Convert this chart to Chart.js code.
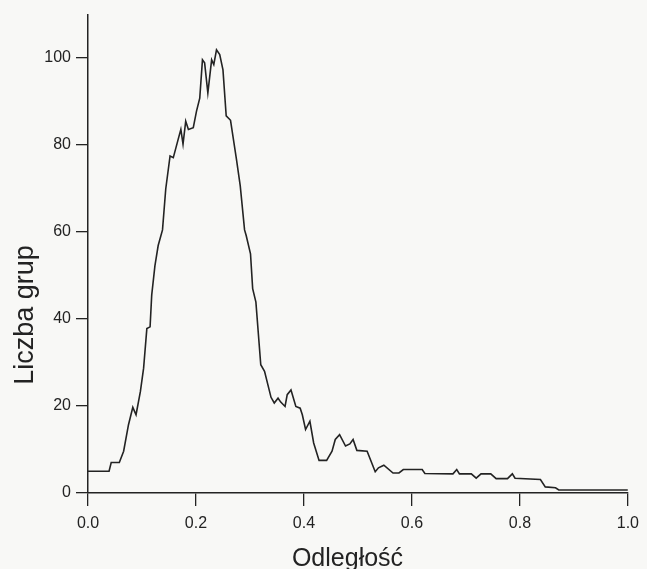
<!DOCTYPE html>
<html>
<head>
<meta charset="utf-8">
<script src="https://cdn.jsdelivr.net/npm/chart.js@4/dist/chart.umd.min.js"></script>
<style>
  html, body { margin: 0; padding: 0; background: #f8f8f6; }
  #c { display: block; }
</style>
</head>
<body>
<canvas id="c" width="647" height="569"></canvas>
<script>
// ---- data ----
const distances = [
  0.000, 0.039, 0.043, 0.058, 0.066, 0.075, 0.083, 0.089, 0.097, 0.103,
  0.109, 0.115, 0.118, 0.124, 0.130, 0.138, 0.144, 0.152, 0.158, 0.167,
  0.172, 0.176, 0.181, 0.186, 0.195, 0.201, 0.207, 0.212, 0.216, 0.222,
  0.229, 0.233, 0.238, 0.244, 0.250, 0.256, 0.264, 0.275, 0.282, 0.290,
  0.293, 0.301, 0.305, 0.311, 0.320, 0.327, 0.339, 0.345, 0.352, 0.357,
  0.365, 0.369, 0.376, 0.385, 0.393, 0.397, 0.403, 0.411, 0.418, 0.428,
  0.442, 0.452, 0.458, 0.466, 0.477, 0.485, 0.491, 0.498, 0.517, 0.532,
  0.538, 0.548, 0.565, 0.576, 0.584, 0.619, 0.624, 0.676, 0.683, 0.688,
  0.710, 0.719, 0.728, 0.746, 0.756, 0.777, 0.786, 0.791, 0.838, 0.847,
  0.866, 0.872, 1.000
];
const groupCounts = [
  5, 5, 7, 7, 9.6, 15.7, 19.7, 18, 23.3, 28.7,
  37.8, 38.2, 45.5, 52.3, 56.9, 60.5, 69.9, 77.5, 77.1, 81.3,
  83.6, 80.2, 85.5, 83.6, 84, 87.8, 90.8, 99.6, 98.9, 92,
  99.6, 98.5, 101.9, 100.8, 97.3, 86.7, 85.7, 76.7, 70.6, 60.5,
  59.2, 55, 47, 43.9, 29.5, 28, 22, 20.7, 21.8, 20.9,
  19.9, 22.6, 23.7, 19.9, 19.5, 18, 14.6, 16.5, 11.5, 7.5,
  7.5, 9.6, 12.3, 13.4, 10.8, 11.3, 12.3, 9.8, 9.6, 4.9,
  5.8, 6.4, 4.6, 4.6, 5.4, 5.4, 4.5, 4.4, 5.4, 4.4,
  4.4, 3.4, 4.4, 4.4, 3.3, 3.3, 4.4, 3.4, 3.1, 1.4,
  1.2, 0.7, 0.7
];
const xTicks = [0, 0.2, 0.4, 0.6, 0.8, 1.0];
const yTicks = [0, 20, 40, 60, 80, 100];
const xTitle = 'Odległość';
const yTitle = 'Liczba grup';

const points = distances.map((d, i) => ({ x: d, y: groupCounts[i] }));
const INK = '#232323';
const FONT = '"Liberation Sans", Arial, Helvetica, sans-serif';

const bgPlugin = {
  id: 'bg',
  beforeDraw(chart) {
    const ctx = chart.ctx;
    ctx.save();
    ctx.fillStyle = '#f8f8f6';
    ctx.fillRect(0, 0, chart.width, chart.height);
    ctx.restore();
  }
};

const titlePlugin = {
  id: 'axisTitles',
  afterDraw(chart) {
    const ctx = chart.ctx;
    ctx.save();
    ctx.fillStyle = INK;
    ctx.textAlign = 'center';
    ctx.textBaseline = 'alphabetic';
    ctx.font = '25px ' + FONT;
    ctx.fillText(xTitle, 347.5, 566);
    ctx.translate(33, 315);
    ctx.rotate(-Math.PI / 2);
    ctx.font = '27px ' + FONT;
    ctx.fillText(yTitle, 0, 0);
    ctx.restore();
  }
};

new Chart(document.getElementById('c'), {
  type: 'line',
  data: {
    datasets: [{
      data: points,
      borderColor: INK,
      borderWidth: 1.6,
      pointRadius: 0,
      tension: 0,
      fill: false
    }]
  },
  options: {
    responsive: false,
    animation: false,
    devicePixelRatio: 1,
    layout: { padding: { top: 11, right: 13, left: 0, bottom: 0 } },
    plugins: { legend: { display: false }, tooltip: { enabled: false } },
    scales: {
      x: {
        type: 'linear',
        min: 0, max: 1,
        afterBuildTicks: (s) => { s.ticks = xTicks.map(v => ({ value: v })); },
        afterFit: (s) => { s.height = 76; },
        ticks: {
          callback: (v) => Number(v).toFixed(1),
          font: { size: 16, family: FONT },
          color: INK,
          padding: 8,
          maxRotation: 0
        },
        grid: { drawOnChartArea: false, drawTicks: true, tickLength: 13, color: INK, lineWidth: 1.3 },
        border: { display: true, color: INK, width: 1.5 },
        title: { display: false }
      },
      y: {
        type: 'linear',
        min: 0, max: 110,
        afterBuildTicks: (s) => { s.ticks = yTicks.map(v => ({ value: v })); },
        afterFit: (s) => { s.width = 88; },
        ticks: {
          font: { size: 16, family: FONT },
          color: INK,
          padding: 5
        },
        grid: { drawOnChartArea: false, drawTicks: true, tickLength: 12, color: INK, lineWidth: 1.3 },
        border: { display: true, color: INK, width: 1.5 },
        title: { display: false }
      }
    }
  },
  plugins: [bgPlugin, titlePlugin]
});
</script>
</body>
</html>
